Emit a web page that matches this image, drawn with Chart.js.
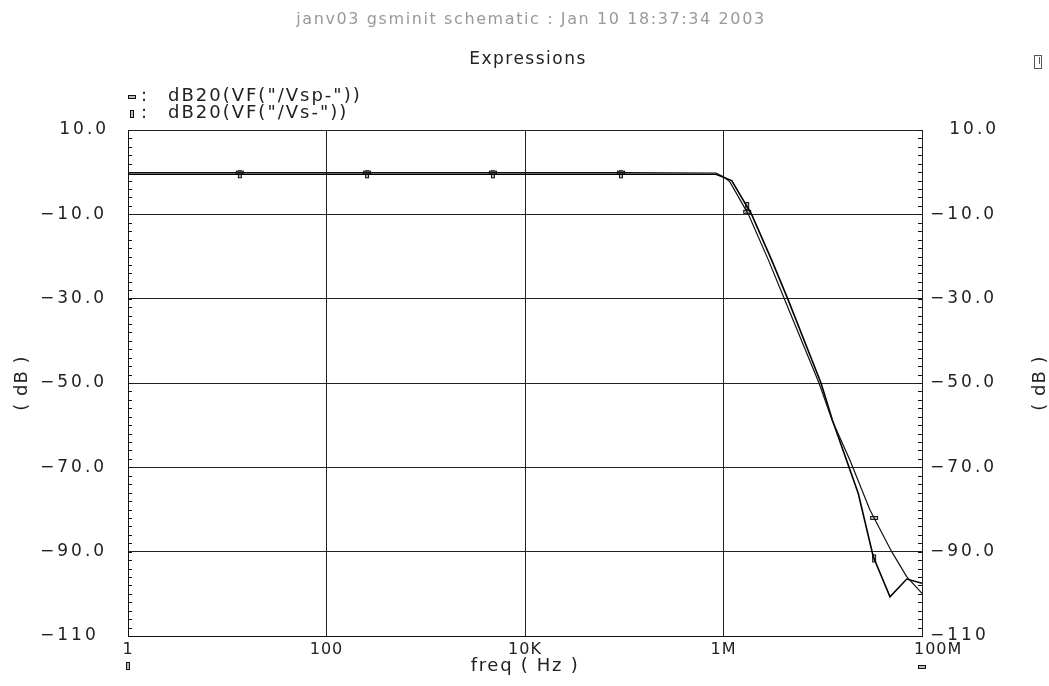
<!DOCTYPE html>
<html lang="en">
<head>
	<meta charset="utf-8">
	<title>Expressions</title>
	<style>
body {
	margin: 0;
	background: #fff;
}
#chartWrapper {
	width: 1049px;
	height: 686px;
}
	</style>
</head>
<body>

<div id="chartWrapper">
  <canvas id="myChart"></canvas>
</div>

<script src="https://cdn.jsdelivr.net/npm/chart.js"></script>
<script>
// values
const freqSp = [1, 10, 100, 1e3, 1e4, 1e5, 8.4e5, 1.0e6, 1.16e6, 1.78e6, 2.83e6, 4.1e6, 9.17e6, 12.4e6, 18.8e6, 29.9e6, 49.5e6, 70.1e6, 1e8];
const dbSp = [-0.1, -0.1, -0.1, -0.1, -0.1, -0.1, -0.2, -1.1, -2.3, -10, -20.8, -30, -50, -58.8, -68.3, -80.1, -90, -95.9, -99.9];

const freqS = [1, 10, 100, 1e3, 1e4, 1e5, 8.4e5, 1.21e6, 1.92e6, 3.05e6, 4.43e6, 9.6e6, 12.5e6, 22.8e6, 32.3e6, 47.6e6, 70.2e6, 1e8];
const dbS = [-0.5, -0.5, -0.5, -0.5, -0.5, -0.5, -0.5, -2.0, -10, -20.8, -30, -50, -58.8, -76.2, -91.2, -100.7, -96.5, -97.5];

const markerFreq = [13.4, 256, 4750, 92.7e3, 1.73e6, 32.9e6];
const markerSp = [-0.1, -0.1, -0.1, -0.1, -9.4, -82];
const markerS = [-0.5, -0.5, -0.5, -0.5, -8, -91.6];

const xTicks = [1, 100, 1e4, 1e6, 1e8];
const xLabels = ['1', '100', '10K', '1M', '100M'];
const yTicks = [10, -10, -30, -50, -70, -90, -110];
const yLabels = ['10.0', '\u221210.0', '\u221230.0', '\u221250.0', '\u221270.0', '\u221290.0', '\u2212110'];

const titleTop = 'janv03 gsminit schematic : Jan 10 18:37:34 2003';
const titleMain = 'Expressions';
const legendSp = 'dB20(VF("/Vsp-"))';
const legendS = 'dB20(VF("/Vs-"))';

function zip(xs, ys) {
	return xs.map((x, i) => ({x: x, y: ys[i]}));
}

// little rectangle markers like the original plotter
function rectMarker(w, h) {
	let c = document.createElement('canvas');
	c.width = w + 2;
	c.height = h + 2;
	let g = c.getContext('2d');
	g.fillStyle = '#bbb';
	g.fillRect(1, 1, w, h);
	g.strokeStyle = '#111';
	g.lineWidth = 1;
	g.strokeRect(1.5, 1.5, w - 1, h - 1);
	return c;
}
const hMark = rectMarker(8, 4);
const vMark = rectMarker(4, 8);

const FONT = '"DejaVu Sans", sans-serif';

const textPlugin = {
	id: 'texts',
	afterDraw(chart) {
		const ctx = chart.ctx;
		const xs = chart.scales.x;
		const ys = chart.scales.y;
		const a = chart.chartArea;
		ctx.save();

		// minor ticks on left/right borders, every 2 dB
		ctx.strokeStyle = '#111';
		ctx.lineWidth = 1;
		ctx.beginPath();
		for (let v = -110; v <= 10; v += 2) {
			let y = Math.round(ys.getPixelForValue(v)) + 0.5;
			ctx.moveTo(a.left, y);
			ctx.lineTo(a.left + 4, y);
			ctx.moveTo(a.right, y);
			ctx.lineTo(a.right - 4, y);
		}
		ctx.stroke();

		ctx.fillStyle = '#222';
		ctx.textBaseline = 'middle';

		// y labels both sides, left aligned in a 5 character field
		ctx.font = '17px ' + FONT;
		ctx.letterSpacing = '3px';
		ctx.textAlign = 'left';
		const minusW = ctx.measureText('\u2212').width;
		yTicks.forEach((v, i) => {
			let y = ys.getPixelForValue(v);
			let off = yLabels[i].startsWith('\u2212') ? 0 : minusW + 2;
			ctx.fillText(yLabels[i], 40 + off, y);
			ctx.fillText(yLabels[i], a.right + 8 + off, y);
		});

		// x labels
		ctx.font = '16px ' + FONT;
		ctx.letterSpacing = '1px';
		xTicks.forEach((v, i) => {
			let x = xs.getPixelForValue(v);
			if (i === xTicks.length - 1) {
				ctx.textAlign = 'left';
				ctx.fillText(xLabels[i], x - 8, a.bottom + 14);
			} else {
				ctx.textAlign = 'center';
				ctx.fillText(xLabels[i], x, a.bottom + 14);
			}
		});
		ctx.textAlign = 'center';
		ctx.font = '18px ' + FONT;
		ctx.letterSpacing = '1.7px';
		ctx.fillText('freq ( Hz )', (a.left + a.right) / 2, a.bottom + 30);

		// axis titles
		ctx.font = '18px ' + FONT;
		ctx.letterSpacing = '1px';
		ctx.save();
		ctx.translate(22, ys.getPixelForValue(-50));
		ctx.rotate(-Math.PI / 2);
		ctx.fillText('( dB )', 0, 0);
		ctx.restore();
		ctx.save();
		ctx.translate(1040, ys.getPixelForValue(-50));
		ctx.rotate(-Math.PI / 2);
		ctx.fillText('( dB )', 0, 0);
		ctx.restore();

		// titles
		ctx.fillStyle = '#999';
		ctx.font = '16px ' + FONT;
		ctx.letterSpacing = '1.6px';
		ctx.fillText(titleTop, 531, 20);
		ctx.fillStyle = '#222';
		ctx.font = '17px ' + FONT;
		ctx.letterSpacing = '1.5px';
		ctx.fillText(titleMain, 528, 60);

		// legend
		ctx.textAlign = 'left';
		ctx.font = '18px ' + FONT;
		ctx.letterSpacing = '2px';
		ctx.drawImage(hMark, 127, 94);
		ctx.fillText(':', 141, 96);
		ctx.fillText(legendSp, 168, 96);
		ctx.drawImage(vMark, 129, 109);
		ctx.fillText(':', 141, 113);
		ctx.fillText(legendS, 168, 113);

		// axis markers under x axis
		ctx.drawImage(vMark, a.left - 3, 661);
		ctx.drawImage(hMark, a.right - 5, 664);

		// small icon top right
		ctx.strokeStyle = '#555';
		ctx.strokeRect(1034.5, 55.5, 7, 13);
		ctx.beginPath();
		ctx.moveTo(1039.5, 57);
		ctx.lineTo(1039.5, 64);
		ctx.stroke();

		ctx.restore();
	}
};

const ctx = document.getElementById('myChart');

new Chart(ctx, {
	type: 'line',
	data: {
		datasets: [{
			label: legendSp,
			data: zip(freqSp, dbSp),
			borderColor: '#111',
			borderWidth: 1.2,
			pointRadius: 0,
			tension: 0
		}, {
			label: legendS,
			data: zip(freqS, dbS),
			borderColor: '#000',
			borderWidth: 1.6,
			pointRadius: 0,
			tension: 0
		}, {
			label: 'sp markers',
			data: zip(markerFreq, markerSp),
			showLine: false,
			pointStyle: hMark,
			pointRadius: 4
		}, {
			label: 's markers',
			data: zip(markerFreq, markerS),
			showLine: false,
			pointStyle: vMark,
			pointRadius: 4
		}]
	},
	options: {
		responsive: true,
		maintainAspectRatio: false,
		animation: false,
		events: [],
		layout: {
			padding: {left: 128, top: 130, right: 127, bottom: 50}
		},
		plugins: {
			legend: {display: false},
			tooltip: {enabled: false}
		},
		scales: {
			x: {
				type: 'logarithmic',
				min: 1,
				max: 1e8,
				afterBuildTicks: s => { s.ticks = xTicks.map(v => ({value: v})); },
				afterFit: s => { s.height = 0; },
				ticks: {display: false},
				grid: {color: '#222', lineWidth: 1, drawTicks: false},
				border: {color: '#111', width: 1}
			},
			y: {
				min: -110,
				max: 10,
				afterBuildTicks: s => { s.ticks = yTicks.map(v => ({value: v})); },
				afterFit: s => { s.width = 0; },
				ticks: {display: false},
				grid: {color: '#222', lineWidth: 1, drawTicks: false},
				border: {color: '#111', width: 1}
			}
		}
	},
	plugins: [textPlugin]
});
</script>
</body>
</html>
